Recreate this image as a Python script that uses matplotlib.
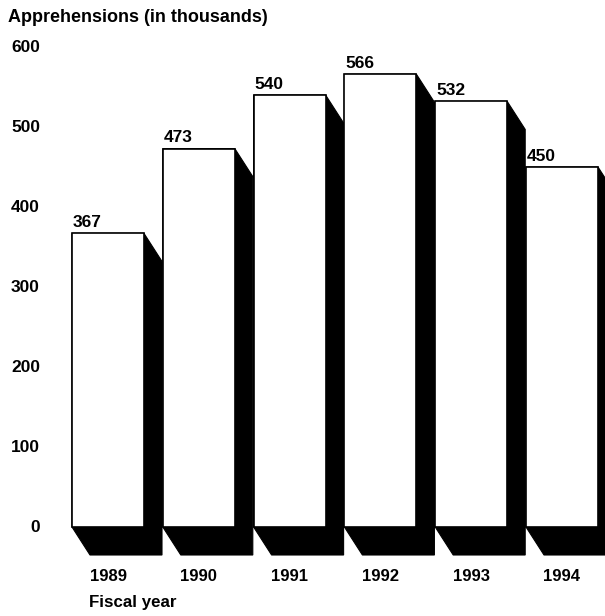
import matplotlib
matplotlib.use("Agg")
import matplotlib.pyplot as plt
from matplotlib.patches import Polygon, Rectangle

plt.rcParams['font.family'] = ['Liberation Sans', 'DejaVu Sans']

years = ['1989', '1990', '1991', '1992', '1993', '1994']
apprehensions = [367, 473, 540, 566, 532, 450]
yticks = [0, 100, 200, 300, 400, 500, 600]

W, H = 605, 616
fig = plt.figure(figsize=(W / 100, H / 100), dpi=100)
ax = fig.add_axes([0, 0, 1, 1])

# pixel layout of the original
pitch = 90.8       # px between bars
x_first = 108      # px, centre of first bar
y_zero = 527       # px from top, value 0
px_per_unit = 0.8
ax.set_xlim(-x_first / pitch, (W - x_first) / pitch)
ax.set_ylim(-(H - y_zero) / px_per_unit, y_zero / px_per_unit)
ax.axis('off')

half = 36 / pitch            # half bar width
dx = 18 / pitch              # shadow offset
dy = 28 / px_per_unit

for i, v in enumerate(apprehensions):
    x0, x1 = i - half, i + half
    shadow = [(x0, v), (x1, v), (x1 + dx, v - dy), (x1 + dx, -dy),
              (x0 + dx, -dy), (x0, 0)]
    ax.add_patch(Polygon(shadow, closed=True, facecolor='black',
                         edgecolor='black', lw=0.8, zorder=1))
    ax.add_patch(Rectangle((x0, 0), x1 - x0, v, facecolor='white',
                           edgecolor='black', lw=1.2, zorder=2))
    ax.text(x0 + 1 / pitch, v + 4, str(v), ha='left', va='bottom',
            fontsize=12.5, fontweight='bold', zorder=3)
    ax.text(i, -62, years[i], ha='center', va='center', fontsize=12,
            fontweight='bold')

lab_x = -(x_first - 40) / pitch
for t in yticks:
    ax.text(lab_x, t, str(t), ha='right', va='center', fontsize=12.5,
            fontweight='bold')

ax.text(-(x_first - 8) / pitch, (y_zero - 17) / px_per_unit,
        'Apprehensions (in thousands)', ha='left', va='center',
        fontsize=13, fontweight='bold')
ax.text(-(x_first - 89) / pitch, -(603 - y_zero) / px_per_unit,
        'Fiscal year', ha='left', va='center', fontsize=12.2,
        fontweight='bold')

fig.savefig('out.png', dpi=100)
